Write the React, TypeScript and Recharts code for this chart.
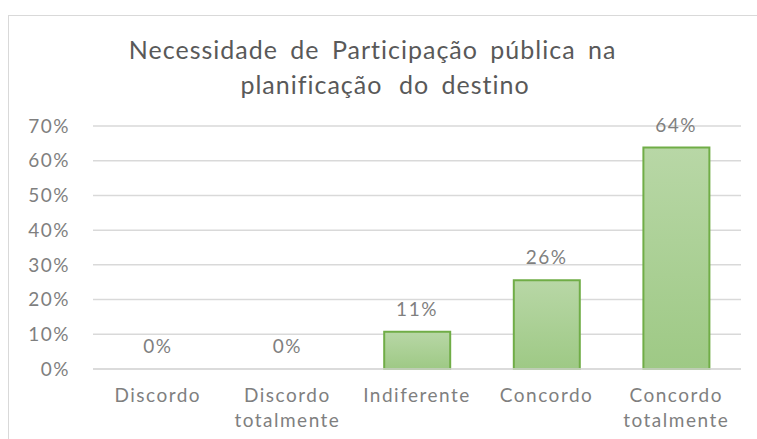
import { ComposedChart, Bar, Line, XAxis, YAxis, CartesianGrid, LabelList } from "recharts";

const categories = [
  "Discordo",
  "Discordo totalmente",
  "Indiferente",
  "Concordo",
  "Concordo totalmente",
];
const values = [0, 0, 0.107, 0.256, 0.638];
const yTicks = [0, 0.1, 0.2, 0.3, 0.4, 0.5, 0.6, 0.7];

const data = categories.map((name, i) => ({ name, value: values[i] }));

const gray = "#7f7f7f";
const font = "Lato, 'Open Sans', sans-serif";

const pct = (v: number) => `${Math.round(v * 100)}%`;

function CategoryTick({ x, y, payload }: any) {
  const lines = String(payload.value).split(" ");
  return (
    <text
      x={x}
      y={y}
      textAnchor="middle"
      fill={gray}
      fontSize={19}
      fontFamily={font}
      letterSpacing={1.5}
    >
      {lines.map((l, i) => (
        <tspan key={i} x={x} dy={25}>
          {l}
        </tspan>
      ))}
    </text>
  );
}

export default function App() {
  return (
    <div
      style={{
        position: "fixed",
        left: 0,
        top: 0,
        width: 757,
        height: 439,
        overflow: "hidden",
        background: "#fff",
      }}
    >
      <div
        style={{
          position: "absolute",
          left: 8,
          top: 15,
          width: 780,
          height: 460,
          border: "1px solid #d9d9d9",
        }}
      />
      <div
        style={{
          position: "absolute",
          left: 0,
          top: 32,
          width: 770,
          textAlign: "center",
          fontFamily: font,
          fontSize: 25,
          lineHeight: "35px",
          color: "#595959",
          letterSpacing: 1,
          wordSpacing: 5,
          whiteSpace: "pre",
        }}
      >
        {"Necessidade de Participação pública na \u00a0"}
        <br />
        {"planificação\u2009 do destino"}
      </div>
      <div style={{ position: "absolute", left: 0, top: 0 }}>
        <ComposedChart
          width={757}
          height={439}
          data={data}
          margin={{ top: 126, right: 16, bottom: 40, left: 20 }}
          barSize={66}
        >
          <defs>
            <linearGradient id="barFill" x1="0" y1="0" x2="0" y2="1">
              <stop offset="0%" stopColor="#b8d7a6" />
              <stop offset="100%" stopColor="#9ec985" />
            </linearGradient>
          </defs>
          <CartesianGrid vertical={false} stroke="#d9d9d9" strokeWidth={1.5} />
          <XAxis
            dataKey="name"
            axisLine={{ stroke: "#d9d9d9", strokeWidth: 1.5 }}
            tickLine={false}
            interval={0}
            tick={<CategoryTick />}
          />
          <YAxis
            width={73}
            domain={[0, 0.7]}
            ticks={yTicks}
            tickFormatter={pct}
            axisLine={false}
            tickLine={false}
            tickSize={0}
            tickMargin={23}
            tick={{ fill: gray, fontSize: 19, fontFamily: font, letterSpacing: 1.5 }}
          />
          <Bar
            dataKey="value"
            fill="url(#barFill)"
            stroke="#70ad47"
            strokeWidth={2}
            isAnimationActive={false}
          />
          {/* invisible line only carries the value labels (so 0% shows too) */}
          <Line
            dataKey="value"
            stroke="none"
            dot={false}
            activeDot={false}
            isAnimationActive={false}
          >
            <LabelList
              dataKey="value"
              position="top"
              offset={16}
              formatter={(v: any) => pct(Number(v))}
              fill={gray}
              fontSize={19}
              fontFamily={font}
              letterSpacing={1.5}
            />
          </Line>
        </ComposedChart>
      </div>
    </div>
  );
}
